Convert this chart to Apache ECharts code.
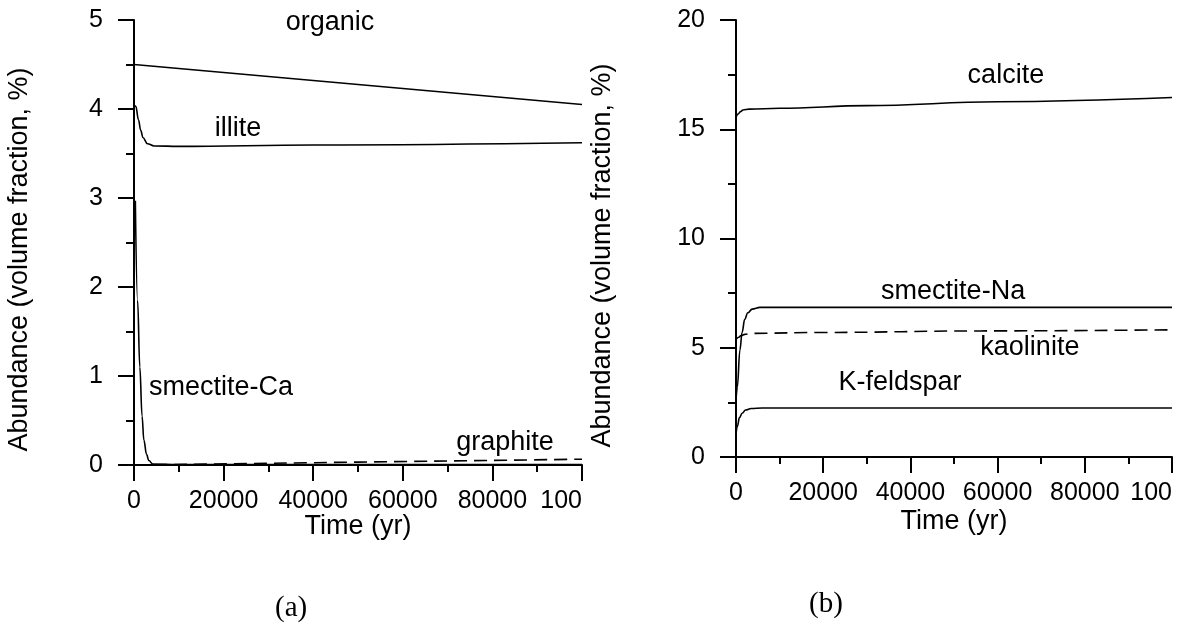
<!DOCTYPE html>
<html>
<head>
<meta charset="utf-8">
<script src="https://cdn.jsdelivr.net/npm/echarts@6/dist/echarts.min.js"></script>
<style>
  html, body { margin: 0; padding: 0; background: #fff; }
  #chart { width: 1182px; height: 639px; }
</style>
</head>
<body>
<div id="chart"></div>
<script>
// ---- Panel (a): time (yr) and abundance (volume fraction, %) ----
const organicT = [0, 100000];
const organicV = [4.5, 4.05];
const illiteT = [0, 400, 1000, 1500, 2000, 3000, 4500, 10000, 40000, 100000];
const illiteV = [4.05, 4.03, 3.88, 3.76, 3.68, 3.61, 3.585, 3.58, 3.595, 3.62];
const smectiteCaT = [300, 800, 1300, 1800, 2200, 2800, 3300, 4200, 10000, 100000];
const smectiteCaV = [2.97, 1.85, 1.1, 0.55, 0.28, 0.12, 0.05, 0.01, 0.005, 0.005];
const graphiteT = [0, 100000];
const graphiteV = [0, 0.065];

// ---- Panel (b) ----
const calciteT = [0, 500, 1000, 1600, 3000, 10000, 30000, 60000, 100000];
const calciteV = [15.55, 15.7, 15.8, 15.88, 15.92, 15.96, 16.08, 16.26, 16.45];
const smectiteNaT = [0, 300, 900, 1400, 2000, 2700, 3700, 5500, 100000];
const smectiteNaV = [2.6, 3.2, 4.9, 5.7, 6.3, 6.6, 6.77, 6.85, 6.85];
const kaoliniteT = [0, 600, 1200, 2000, 3500, 20000, 56000, 100000];
const kaoliniteV = [5.38, 5.48, 5.56, 5.61, 5.66, 5.7, 5.77, 5.82];
const kfeldsparT = [0, 300, 800, 1400, 2200, 3500, 6000, 100000];
const kfeldsparV = [1.05, 1.4, 1.8, 2.0, 2.15, 2.22, 2.24, 2.24];

// Axis ranges and tick steps
const xTicks = [0, 20000, 40000, 60000, 80000, 100000];
const yTicksA = [0, 1, 2, 3, 4, 5];
const yTicksB = [0, 5, 10, 15, 20];

// Curve labels: [text, time, value]
const labelsA = [
  ['organic', 43750, 4.97],
  ['illite', 23200, 3.78],
  ['smectite-Ca', 19400, 0.87],
  ['graphite', 82800, 0.25]
];
const labelsB = [
  ['calcite', 61900, 17.44],
  ['smectite-Na', 49800, 7.55],
  ['kaolinite', 67400, 4.99],
  ['K-feldspar', 37600, 3.43]
];

const FONT = 'Liberation Sans, Arial, sans-serif';
const SERIF = '"Liberation Serif", "Times New Roman", serif';
const zip = (t, v) => t.map((x, i) => [x, v[i]]);

function xAxis(gridIndex, gap) {
  return {
    type: 'value', gridIndex,
    min: xTicks[0], max: xTicks[xTicks.length - 1], interval: xTicks[1] - xTicks[0],
    name: 'Time (yr)', nameLocation: 'middle', nameGap: gap, nameMoveOverlap: false,
    nameTextStyle: { fontFamily: FONT, fontSize: 27, color: '#000' },
    axisLine: { lineStyle: { color: '#000', width: 2 } },
    axisTick: { inside: false, length: 16, lineStyle: { color: '#000', width: 2 } },
    minorTick: { show: true, splitNumber: 2, length: 7, lineStyle: { color: '#000', width: 2 } },
    splitLine: { show: false },
    axisLabel: {
      fontFamily: FONT, fontSize: 25, color: '#000', margin: 24,
      showMaxLabel: true,
      // last label runs past the frame: only its leading digits are visible
      formatter: v => v === 100000 ? '{a|100}{g|000}' : String(v),
      rich: {
        a: { fontFamily: FONT, fontSize: 25, color: '#000' },
        g: { fontFamily: FONT, fontSize: 25, color: 'rgba(0,0,0,0)' }
      }
    }
  };
}

function yAxis(gridIndex, ticks, gap) {
  return {
    type: 'value', gridIndex,
    min: ticks[0], max: ticks[ticks.length - 1], interval: ticks[1] - ticks[0],
    name: 'Abundance (volume fraction, %)', nameLocation: 'middle', nameGap: gap, nameMoveOverlap: false,
    nameTextStyle: { fontFamily: FONT, fontSize: 27, color: '#000', padding: [0, 34, 0, 0] },
    axisLine: { show: true, lineStyle: { color: '#000', width: 2 } },
    axisTick: { show: true, inside: false, length: 16, lineStyle: { color: '#000', width: 2 } },
    minorTick: { show: true, splitNumber: 2, length: 8, lineStyle: { color: '#000', width: 2 } },
    splitLine: { show: false },
    axisLabel: { fontFamily: FONT, fontSize: 25, color: '#000', margin: 31 }
  };
}

function line(name, t, v, xi, dashed) {
  return {
    name, type: 'line', xAxisIndex: xi, yAxisIndex: xi,
    data: zip(t, v), showSymbol: false, symbol: 'none',
    smooth: 0.4, smoothMonotone: 'x',
    lineStyle: { color: '#000', width: 1.6, type: dashed ? [13, 7] : 'solid' },
    animation: false, silent: true, z: 3
  };
}

function labelSeries(list, xi) {
  return {
    type: 'scatter', xAxisIndex: xi, yAxisIndex: xi,
    data: list.map(l => ({ value: [l[1], l[2]], name: l[0] })),
    symbolSize: 0, silent: true, animation: false,
    itemStyle: { opacity: 1 },
    label: {
      show: true, position: 'inside', formatter: p => p.name,
      fontFamily: FONT, fontSize: 27, color: '#000', opacity: 1
    }
  };
}

const chart = echarts.init(document.getElementById('chart'), null, { renderer: 'canvas' });
chart.setOption({
  backgroundColor: '#fff',
  animation: false,
  grid: [
    { left: 134, top: 20, width: 448, height: 445, outerBoundsMode: 'none', containLabel: false },
    { left: 736, top: 20, width: 436, height: 437, outerBoundsMode: 'none', containLabel: false }
  ],
  xAxis: [xAxis(0, 48), xAxis(1, 51)],
  yAxis: [yAxis(0, yTicksA, 101), yAxis(1, yTicksB, 120)],
  series: [
    line('organic', organicT, organicV, 0),
    line('illite', illiteT, illiteV, 0),
    line('smectite-Ca', smectiteCaT, smectiteCaV, 0),
    line('graphite', graphiteT, graphiteV, 0, true),
    labelSeries(labelsA, 0),
    line('calcite', calciteT, calciteV, 1),
    line('smectite-Na', smectiteNaT, smectiteNaV, 1),
    line('kaolinite', kaoliniteT, kaoliniteV, 1, true),
    line('K-feldspar', kfeldsparT, kfeldsparV, 1),
    labelSeries(labelsB, 1)
  ],
  graphic: [
    { type: 'text', left: 275, top: 594, style: { text: '(a)', font: '29px ' + SERIF, fill: '#000' } },
    { type: 'text', left: 809, top: 590, style: { text: '(b)', font: '29px ' + SERIF, fill: '#000' } }
  ]
});
</script>
</body>
</html>
